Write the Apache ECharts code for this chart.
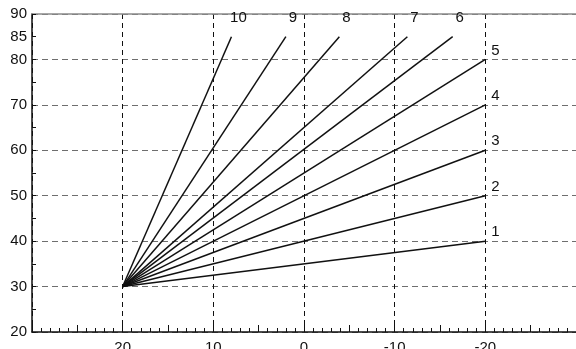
<!DOCTYPE html>
<html>
<head>
<meta charset="utf-8">
<script src="https://cdn.jsdelivr.net/npm/echarts@6/dist/echarts.min.js"></script>
<style>
  html, body { margin: 0; padding: 0; background: #fff; }
  #chart { width: 576px; height: 349px; }
</style>
</head>
<body>
<div id="chart"></div>
<script>
// curve numbers and their end points, all curves start at (20, 30)
var curveNames = ['1', '2', '3', '4', '5', '6', '7', '8', '9', '10'];
var startPoint = [20, 30];
var endX = [-20, -20, -20, -20, -20, -16.4, -11.4, -3.9, 2, 8];
var endY = [40, 50, 60, 70, 80, 85, 85, 85, 85, 85];
// tick labels
var xLabels = [20, 10, 0, -10, -20];
var yLabels = [20, 30, 40, 50, 60, 70, 80, 85, 90];

var chartDom = document.getElementById('chart');
var myChart = echarts.init(chartDom, null, { renderer: 'canvas' });

var font = 'Liberation Sans, Arial, sans-serif';
var series = [];
for (var i = 0; i < curveNames.length; i++) {
  series.push({
    name: curveNames[i],
    type: 'line',
    xAxisIndex: 0,
    yAxisIndex: 0,
    symbol: 'none',
    silent: true,
    lineStyle: { color: '#111', width: 1.5 },
    data: [startPoint, [endX[i], endY[i]]],
    z: 5
  });
}

// curve number labels at the upper end of each curve
var labelData = [];
for (var j = 0; j < curveNames.length; j++) {
  var steep = endY[j] > 80;
  labelData.push({
    value: [endX[j], endY[j]],
    label: {
      formatter: curveNames[j],
      offset: steep ? [7, -19] : [10, -9]
    }
  });
}
series.push({
  type: 'scatter',
  symbol: 'circle',
  symbolSize: 2,
  silent: true,
  itemStyle: { color: 'transparent', opacity: 1 },
  label: {
    show: true,
    position: 'inside',
    align: 'center',
    verticalAlign: 'middle',
    color: '#111',
    opacity: 1,
    textBorderWidth: 0,
    fontSize: 15,
    fontFamily: font
  },
  data: labelData,
  z: 6
});

var option = {
  animation: false,
  backgroundColor: '#fff',
  grid: { left: 32, right: 0, top: 14, bottom: 17, containLabel: false, outerBoundsMode: 'none' },
  xAxis: [
    {
      type: 'value',
      inverse: true,
      min: -30,
      max: 30,
      interval: 5,
      axisLine: { show: true, onZero: false, lineStyle: { color: '#111', width: 1.5 } },
      axisTick: { show: true, inside: true, length: 7, lineStyle: { color: '#111', width: 1 } },
      minorTick: { show: true, splitNumber: 5, length: 4, lineStyle: { color: '#111', width: 1 } },
      axisLabel: {
        margin: 8,
        color: '#111',
        fontSize: 15,
        fontFamily: font,
        formatter: function (v) {
          return xLabels.indexOf(v) >= 0 ? String(v) : '';
        }
      },
      splitLine: { show: false }
    },
    {
      // top border and vertical grid lines
      type: 'value',
      position: 'top',
      inverse: true,
      min: -30,
      max: 30,
      interval: 10,
      axisLine: { show: true, onZero: false, lineStyle: { color: '#8a8a8a', width: 1.5 } },
      axisTick: { show: false },
      axisLabel: { show: false },
      splitLine: { show: true, lineStyle: { color: '#111', width: 1, type: [5, 4] } }
    }
  ],
  yAxis: [
    {
      type: 'value',
      min: 20,
      max: 90,
      interval: 5,
      axisLine: { show: true, onZero: false, lineStyle: { color: '#111', width: 1.5 } },
      axisTick: { show: true, inside: true, length: 4, lineStyle: { color: '#111', width: 1 } },
      axisLabel: {
        margin: 5,
        color: '#111',
        fontSize: 15,
        fontFamily: font,
        formatter: function (v) {
          return yLabels.indexOf(v) >= 0 ? String(v) : '';
        }
      },
      splitLine: { show: false }
    },
    {
      // horizontal grid lines
      type: 'value',
      position: 'left',
      min: 20,
      max: 90,
      interval: 10,
      axisLine: { show: false },
      axisTick: { show: false },
      axisLabel: { show: false },
      splitLine: { show: true, lineStyle: { color: '#6e6e6e', width: 1, type: [6, 4] } }
    }
  ],
  series: series
};

myChart.setOption(option);
</script>
</body>
</html>
